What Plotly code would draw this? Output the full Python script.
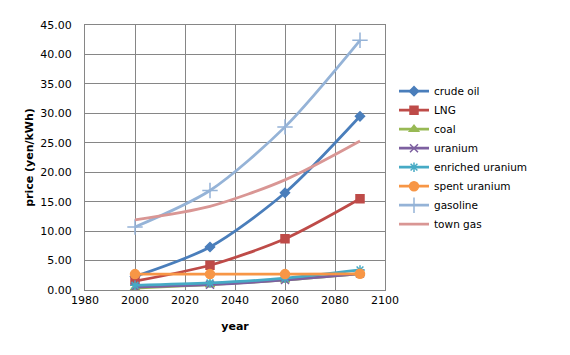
import plotly.graph_objects as go

years = [2000, 2030, 2060, 2090]
crude_oil = [2.3, 7.3, 16.5, 29.5]
lng = [1.5, 4.2, 8.7, 15.5]
coal = [0.3, 0.9, 1.7, 2.8]
uranium = [0.5, 0.9, 1.7, 2.8]
enriched_uranium = [0.8, 1.2, 2.0, 3.4]
spent_uranium = [2.7, 2.7, 2.7, 2.75]
gasoline = [10.7, 16.9, 27.7, 42.4]
town_gas = [11.9, 14.2, 18.7, 25.3]

series = [
    ("crude oil", crude_oil, "#4A7EBB", "diamond", 7),
    ("LNG", lng, "#BE4B48", "square", 8),
    ("coal", coal, "#98B954", "triangle-up", 8),
    ("uranium", uranium, "#7D60A0", "x-thin-open", 8),
    ("enriched uranium", enriched_uranium, "#46AAC5", "asterisk-open", 8),
    ("spent uranium", spent_uranium, "#F79646", "circle", 9),
    ("gasoline", gasoline, "#95B3D7", "cross-thin-open", 11),
    ("town gas", town_gas, "#D99694", None, 0),
]

fig = go.Figure()
for name, vals, color, sym, sz in series:
    mode = "lines+markers" if sym else "lines"
    marker = dict(symbol=sym, size=sz, color=color, line=dict(color=color, width=1.5)) if sym else None
    fig.add_trace(go.Scatter(
        x=years, y=vals, name=name, mode=mode,
        line=dict(color=color, width=2.75, shape="spline", smoothing=0.8),
        marker=marker,
    ))

fig.update_layout(
    width=570, height=355,
    margin=dict(l=77, r=193, t=17, b=73),
    paper_bgcolor="white", plot_bgcolor="white",
    font=dict(family="DejaVu Sans", size=11, color="black"),
    showlegend=True,
    legend=dict(x=1.03, y=0.805, xanchor="left", yanchor="top",
                font=dict(size=10.5), tracegroupgap=0, itemwidth=30,
                bgcolor="rgba(0,0,0,0)"),
    xaxis=dict(range=[1980, 2100], dtick=20, tick0=1980,
               showgrid=True, gridcolor="#868686", gridwidth=1,
               showline=True, linecolor="#868686", mirror=True,
               zeroline=False, ticks="", automargin=False,
               title=dict(text="<b>year</b>", font=dict(size=11), standoff=16)),
    yaxis=dict(range=[0, 45], dtick=5, tickformat=".2f",
               showgrid=True, gridcolor="#868686", gridwidth=1,
               showline=True, linecolor="#868686", mirror=True,
               zeroline=False, ticks="", ticklabelstandoff=10, automargin=False,
               title=dict(text="<b>price (yen/kWh)</b>", font=dict(size=11), standoff=4)),
)

fig.write_html("out.html")
